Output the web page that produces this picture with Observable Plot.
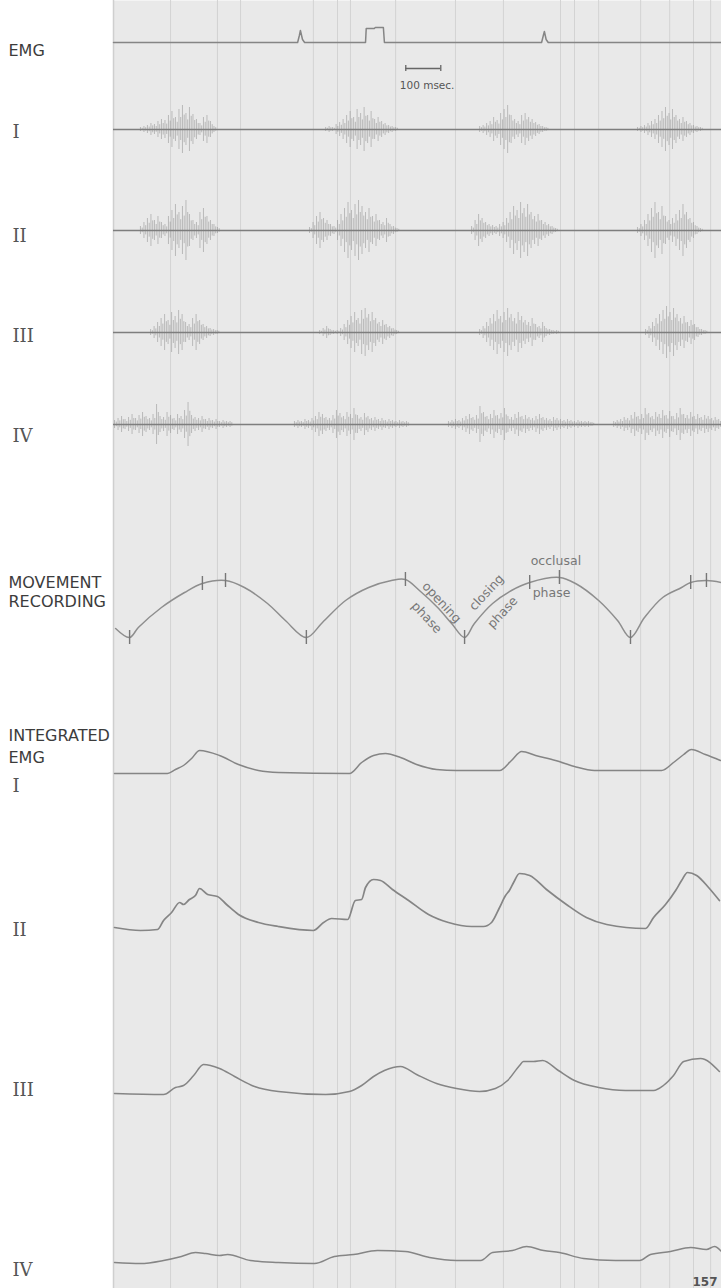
<!DOCTYPE html>
<html><head><meta charset="utf-8">
<script src="https://cdn.jsdelivr.net/npm/d3@7"></script>
<script src="https://cdn.jsdelivr.net/npm/@observablehq/plot@0.6"></script>
<style>
html,body{margin:0;padding:0;background:#fff;}
#chart svg{display:block;}
g[aria-label="track-labels"] text{letter-spacing:2px;}
</style></head><body><div id="chart"></div>
<script>
// ---------------- DATA (time in ms, deflections in recorder units) ----------------
const SAMPLE_MS = 10;
const timeDomain = [0, 1737];

// trigger / marker channel at top of the EMG record
const triggerTrace = [[0,0],[526,0],[531,7],[534,12],[540,3],[546,0],[720,0],[722,14],[745,14],[748,15],[771,15],[774,0],[1223,0],[1228,7],[1231,11],[1236,3],[1242,0],[1737,0]];
const scaleBarMs = [835, 935];
const scaleBarLabel = "100 msec.";

// raw EMG bursts: [start ms, amplitude samples every SAMPLE_MS]
const rawI = [
  [77,  [2,3,4,6,5,8,10,9,14,18,12,20,24,16,22,15,10,6,12,14,8,3]],
  [606, [2,3,2,5,7,10,14,18,12,20,16,22,14,18,10,12,8,6,4,3,2]],
  [1046,[3,4,6,8,12,9,16,20,24,14,10,8,14,16,12,10,7,5,3,2]],
  [1497,[2,3,4,6,8,10,14,18,22,16,20,14,10,12,8,6,4,3,2]]
];
const rawII = [
  [77,  [4,8,12,16,10,14,8,6,14,20,26,18,24,30,16,10,8,18,22,14,10,6,3]],
  [560, [3,8,14,18,12,10,6,4,10,16,22,28,20,26,30,24,18,22,14,16,10,8,12,6,4,2]],
  [1023,[4,10,16,12,8,6,5,4,6,8,12,18,24,20,28,22,26,18,14,16,10,8,6,4,2]],
  [1497,[3,6,10,16,22,28,18,24,14,10,12,16,20,26,18,12,8,4,2]]
];
const rawIII = [
  [106, [3,6,10,14,18,12,20,16,22,18,10,8,14,18,12,8,6,4,3,2]],
  [589, [2,4,6,3,2,2,4,8,12,16,20,14,22,24,18,20,14,10,12,8,6,4,2]],
  [1046,[3,6,10,14,18,22,16,20,24,18,14,20,16,12,10,14,8,6,10,4,3,2,2]],
  [1520,[3,6,10,14,18,22,26,20,24,18,14,16,10,12,8,5,3,2]]
];
const rawIV = [
  [3,   [4,6,8,5,7,10,6,9,12,8,6,10,20,8,7,12,9,6,10,8,14,22,9,7,6,8,5,6,4,5,3,4,3,3]],
  [517, [3,4,3,5,4,6,8,12,10,7,6,9,14,11,8,12,10,16,9,7,11,8,6,7,5,6,4,5,4,3,4,3,3]],
  [957, [3,4,5,4,6,8,10,7,9,18,12,8,10,14,9,11,16,8,7,10,12,8,9,7,6,8,10,7,6,5,7,6,5,4,5,4,3,4,3,3,3,2]],
  [1429,[3,4,5,7,6,9,12,8,10,16,11,8,12,10,14,9,13,8,11,16,10,9,12,8,10,7,9,8,6,7,5]]
];

// jaw movement recording: [ms, height above max opening]
const movementTrace = [[6,12],[46,3],[71,13],[137,33],[203,48],[254,57],[320,60],[374,53],[440,37],[491,20],[551,3],[597,18],[663,40],[729,53],[794,60],[834,61],[874,50],[926,33],[966,17],[1003,3],[1031,17],[1083,37],[1137,50],[1189,58],[1274,63],[1320,57],[1386,40],[1440,20],[1477,3],[1517,23],[1569,43],[1623,53],[1649,58],[1694,60],[1737,58]];
const movementTicks = [46,254,320,551,834,1003,1189,1274,1477,1649,1694];
const phaseText = ["opening","phase","closing","phase","occlusal","phase"];
const phaseAnchorMs = [926,926,1083,1083,1189,1189];

// integrated EMG channels: [ms, level]
const intI = [[3,0],[154,0],[177,4],[200,8],[223,15],[246,23],[303,18],[357,9],[414,3],[471,1],[674,0],[709,11],[743,18],[777,20],[820,16],[866,9],[923,4],[980,3],[1103,3],[1137,13],[1166,22],[1206,18],[1263,13],[1317,7],[1374,3],[1566,3],[1600,11],[1629,19],[1651,24],[1691,19],[1734,13]];
const intII = [[3,0],[77,-3],[126,-2],[143,7],[166,15],[189,25],[200,23],[217,28],[234,32],[246,39],[269,33],[297,31],[323,23],[357,13],[414,5],[471,1],[571,-3],[600,5],[623,9],[669,8],[691,27],[709,28],[720,40],[743,48],[763,47],[797,38],[843,27],[900,13],[957,5],[1023,1],[1057,1],[1080,5],[1103,20],[1120,32],[1131,37],[1143,45],[1160,54],[1189,52],[1237,38],[1294,23],[1351,10],[1409,3],[1520,-1],[1543,10],[1577,23],[1606,37],[1623,47],[1640,55],[1666,52],[1700,40],[1731,27]];
const intIII = [[3,0],[143,-1],[177,6],[200,8],[229,18],[257,29],[303,25],[346,17],[403,7],[471,2],[606,-1],[674,2],[709,8],[743,17],[774,23],[820,27],[866,19],[923,10],[980,5],[1046,2],[1091,5],[1126,13],[1160,28],[1171,32],[1200,32],[1226,33],[1271,23],[1317,13],[1386,6],[1463,3],[1543,3],[1571,8],[1600,18],[1629,32],[1677,35],[1731,22]];
const intIV = [[3,0],[77,-1],[143,2],[194,6],[234,10],[263,9],[303,7],[326,8],[391,2],[471,0],[574,-1],[631,6],[686,8],[754,12],[834,11],[903,5],[980,2],[1049,2],[1083,10],[1140,12],[1180,16],[1229,12],[1274,10],[1343,4],[1434,2],[1503,2],[1534,8],[1591,11],[1649,15],[1694,13],[1717,16],[1737,11]];

// chart-paper division lines (ms)
const paperLines = [163,297,363,571,640,677,806,977,1114,1277,1317,1386,1506,1589,1657,1706];

const sansLabels = ["EMG","MOVEMENT","RECORDING","INTEGRATED","EMG"];
const romanLabels = ["I","II","III","IV","I","II","III","IV"];
const pageNumber = "157";

// ---------------- LAYOUT (recorder baselines, in vertical paper units) ----------------
const L = {trigger:42, I:129, II:230, III:332, IV:424, move:640, iI:773, iII:927, iIII:1093, iIV:1262, scale:68};
const sansY = [50, 582, 601, 735, 757];
const romanY = [132, 236, 336, 436, 786, 930, 1090, 1270];
const phaseDx = [4,-11,-6,10,1,3], phaseDy = [-5,10,-11,9,-22,10], phaseRot = [47,47,-47,-47,0,0];
const phaseAnchor = ["middle","middle","middle","middle","start","start"];

// ---------------- BUILD ----------------
const rows = bursts => bursts.flatMap(([t0, amps]) => amps.map((a, i) => ({t: t0 + i * SAMPLE_MS, a})));
const moveAt = t => movementTrace.find(d => d[0] === t)[1];
const TRACE = "#858585";

function rawChannel(bursts, base) {
  const r = rows(bursts);
  return [
    Plot.ruleX(r, {x: "t", y1: d => base - d.a, y2: d => base + d.a, stroke: "#8c8c8c", strokeOpacity: 0.5, strokeWidth: 1}),
    Plot.ruleX(r, {x: "t", dx: 1.75, y1: d => base - 0.6 * d.a, y2: d => base + 0.55 * d.a, stroke: "#7d7d7d", strokeOpacity: 0.45, strokeWidth: 1}),
    Plot.ruleY([base], {stroke: "#7e7e7e", strokeWidth: 1.6})
  ];
}
function integrated(data, base, w) {
  return Plot.line(data, {x: d => d[0], y: d => base - d[1], stroke: TRACE, strokeWidth: w, curve: "monotone-x"});
}

const phaseRows = phaseText.map((text, i) => ({text, t: phaseAnchorMs[i], v: moveAt(phaseAnchorMs[i])}));
const tickRows = movementTicks.map(t => ({t, v: moveAt(t)}));

const chart = Plot.plot({
  width: 721, height: 1288,
  marginLeft: 113, marginRight: 0, marginTop: 0, marginBottom: 0,
  x: {domain: timeDomain, axis: null},
  y: {domain: [0, 1288], reverse: true, axis: null},
  style: {background: "#ffffff", fontFamily: "DejaVu Sans, sans-serif"},
  marks: [
    Plot.frame({fill: "#e9e9e9", stroke: null}),
    Plot.ruleX(paperLines, {stroke: "#d3d3d3", strokeWidth: 1}),
    Plot.ruleX([timeDomain[0]], {stroke: "#cfcfcf", strokeWidth: 1.5}),
    // trigger channel + scale bar
    Plot.line(triggerTrace, {x: d => d[0], y: d => L.trigger - d[1], stroke: TRACE, strokeWidth: 1.5}),
    Plot.ruleY([scaleBarMs], {x1: d => d[0], x2: d => d[1], y: L.scale, stroke: "#666", strokeWidth: 1.3}),
    Plot.ruleX(scaleBarMs, {x: d => d, y1: L.scale - 3, y2: L.scale + 3, stroke: "#666", strokeWidth: 1.3}),
    Plot.text([scaleBarLabel], {x: scaleBarMs[0], y: L.scale + 17, textAnchor: "start", dx: -6, fontSize: 10.5, fill: "#555"}),
    // raw EMG
    ...rawChannel(rawI, L.I), ...rawChannel(rawII, L.II), ...rawChannel(rawIII, L.III), ...rawChannel(rawIV, L.IV),
    // movement
    Plot.line(movementTrace, {x: d => d[0], y: d => L.move - d[1], stroke: "#8e8e8e", strokeWidth: 1.5, curve: "catmull-rom"}),
    Plot.ruleX(tickRows, {x: "t", y1: d => L.move - d.v - 7, y2: d => L.move - d.v + 7, stroke: "#777", strokeWidth: 1.4}),
    ...phaseRows.map((d, i) => Plot.text([d], {x: "t", y: r => L.move - r.v, text: "text", dx: phaseDx[i], dy: phaseDy[i], rotate: phaseRot[i], textAnchor: phaseAnchor[i], fontSize: 12.5, fill: "#777"})),
    // integrated EMG
    integrated(intI, L.iI, 1.5), integrated(intII, L.iII, 1.7), integrated(intIII, L.iIII, 1.5), integrated(intIV, L.iIV, 1.5),
    // labels
    Plot.text(sansLabels, {frameAnchor: "left", y: (d, i) => sansY[i], dx: -105, textAnchor: "start", fontSize: 16, fill: "#3c3c3c", ariaLabel: "track-labels"}),
    Plot.text(romanLabels, {frameAnchor: "left", y: (d, i) => romanY[i], dx: -101, textAnchor: "start", fontSize: 18, fontFamily: "DejaVu Serif, serif", fill: "#555"}),
    Plot.text([pageNumber], {frameAnchor: "bottom-right", dx: -4, dy: -3, textAnchor: "end", fontSize: 12, fontWeight: "bold", fill: "#555"})
  ]
});
document.getElementById("chart").appendChild(chart);
</script></body></html>
